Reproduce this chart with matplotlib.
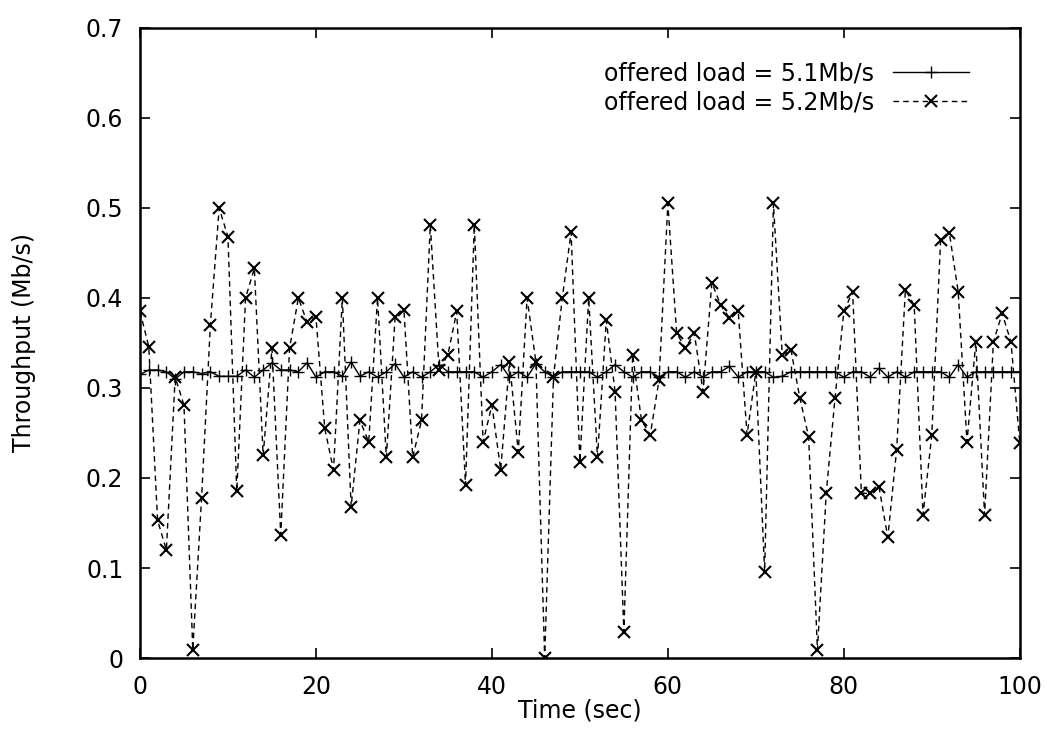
import matplotlib
matplotlib.use("Agg")
import matplotlib.pyplot as plt

plt.rcParams['font.family'] = ['DejaVu Sans']

time_sec = list(range(0, 101))

load_51 = [0.315, 0.320, 0.320, 0.318, 0.310, 0.318, 0.318, 0.316, 0.318, 0.313,
           0.313, 0.313, 0.320, 0.312, 0.320, 0.328, 0.320, 0.320, 0.318, 0.328,
           0.312, 0.318, 0.318, 0.313, 0.329, 0.313, 0.318, 0.312, 0.318, 0.327,
           0.312, 0.318, 0.312, 0.318, 0.326, 0.318, 0.318, 0.318, 0.318, 0.312,
           0.318, 0.326, 0.312, 0.318, 0.312, 0.327, 0.318, 0.312, 0.318, 0.318,
           0.318, 0.318, 0.312, 0.318, 0.326, 0.318, 0.312, 0.318, 0.318, 0.312,
           0.318, 0.318, 0.312, 0.318, 0.312, 0.318, 0.318, 0.324, 0.312, 0.318,
           0.318, 0.318, 0.312, 0.313, 0.318, 0.318, 0.318, 0.318, 0.318, 0.318,
           0.312, 0.318, 0.318, 0.312, 0.322, 0.312, 0.318, 0.312, 0.318, 0.318,
           0.318, 0.318, 0.312, 0.326, 0.312, 0.318, 0.318, 0.318, 0.318, 0.318,
           0.318]

load_52 = [0.385, 0.346, 0.153, 0.120, 0.312, 0.281, 0.009, 0.178, 0.370, 0.500,
           0.468, 0.185, 0.400, 0.433, 0.225, 0.344, 0.137, 0.344, 0.400, 0.373,
           0.379, 0.255, 0.209, 0.400, 0.168, 0.264, 0.240, 0.400, 0.223, 0.379,
           0.387, 0.223, 0.264, 0.481, 0.320, 0.337, 0.385, 0.192, 0.481, 0.240,
           0.281, 0.209, 0.329, 0.229, 0.400, 0.329, 0.000, 0.312, 0.400, 0.473,
           0.218, 0.400, 0.223, 0.375, 0.296, 0.029, 0.337, 0.264, 0.248, 0.309,
           0.505, 0.361, 0.344, 0.361, 0.296, 0.417, 0.392, 0.378, 0.385, 0.248,
           0.318, 0.096, 0.505, 0.337, 0.342, 0.289, 0.246, 0.009, 0.183, 0.289,
           0.385, 0.407, 0.183, 0.183, 0.190, 0.134, 0.231, 0.409, 0.392, 0.159,
           0.248, 0.464, 0.472, 0.407, 0.240, 0.351, 0.159, 0.351, 0.383, 0.351,
           0.239]

labels = ["offered load = 5.1Mb/s", "offered load = 5.2Mb/s"]
x_ticks = [0, 20, 40, 60, 80, 100]
y_ticks = [0, 0.1, 0.2, 0.3, 0.4, 0.5, 0.6, 0.7]
y_ticklabels = ["0", "0.1", "0.2", "0.3", "0.4", "0.5", "0.6", "0.7"]

fig = plt.figure(figsize=(10.47, 7.42), dpi=100)
ax = fig.add_axes([0.1337, 0.1132, 0.8403, 0.8491])

ax.plot(time_sec, load_51, color='black', linestyle='-', linewidth=1.0,
        marker='+', markersize=9, markeredgewidth=1.0, label=labels[0])
ax.plot(time_sec, load_52, color='black', linestyle=(0, (4, 3)), linewidth=1.0,
        marker='x', markersize=9, markeredgewidth=1.5, label=labels[1])

ax.set_xlim(0, 100)
ax.set_ylim(0, 0.7)
ax.set_xticks(x_ticks)
ax.set_yticks(y_ticks)
ax.set_yticklabels(y_ticklabels)
ax.tick_params(direction='in', length=7, width=1.2, top=True, right=True,
               labelsize=17)
ax.tick_params(axis='x', pad=12)
ax.tick_params(axis='y', pad=12)
for s in ax.spines.values():
    s.set_linewidth(1.8)

ax.set_xlabel("Time (sec)", fontsize=17, labelpad=0)
ax.set_ylabel("Throughput (Mb/s)", fontsize=17, labelpad=36)

leg = ax.legend(loc='upper right', frameon=False, markerfirst=False,
                fontsize=17, handlelength=3.2, borderaxespad=0.0, borderpad=0.0,
                labelspacing=0.2, handletextpad=0.8,
                bbox_to_anchor=(0.942, 0.947))

fig.savefig("out.png", dpi=100)
